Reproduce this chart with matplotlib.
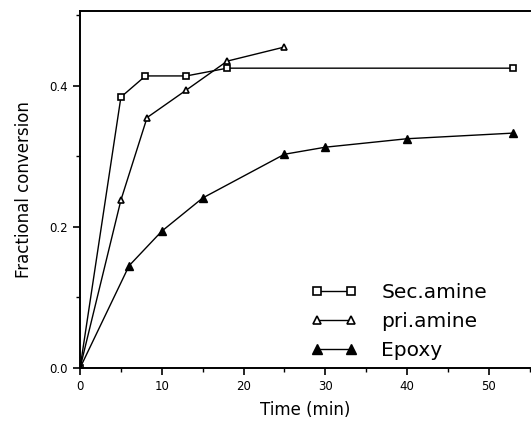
import matplotlib
matplotlib.use("Agg")
import matplotlib.pyplot as plt
from matplotlib.ticker import MultipleLocator

# data
t_sec = [0, 5, 8, 13, 18, 53]
sec_amine = [0.0, 0.384, 0.414, 0.414, 0.425, 0.425]

t_pri = [0, 5, 8.2, 13, 18, 25]
pri_amine = [0.0, 0.238, 0.355, 0.394, 0.435, 0.455]

t_epo = [0, 6, 10, 15, 25, 30, 40, 53]
epoxy = [0.0, 0.145, 0.194, 0.241, 0.303, 0.313, 0.325, 0.333]

fig = plt.figure(figsize=(5.31, 4.24), dpi=100)
ax = fig.add_axes([0.1507, 0.132, 0.847, 0.842])

ax.plot(t_sec, sec_amine, color="black", lw=1.0, marker="s", ms=5,
        mfc="white", mec="black", mew=1.2, label="Sec.amine")
ax.plot(t_pri, pri_amine, color="black", lw=1.0, marker="^", ms=5,
        mfc="white", mec="black", mew=1.2, label="pri.amine")
ax.plot(t_epo, epoxy, color="black", lw=1.0, marker="^", ms=5.5,
        mfc="black", mec="black", label="Epoxy")

ax.set_xlim(0, 55)
ax.set_ylim(0, 0.506)
ax.xaxis.set_major_locator(MultipleLocator(10))
ax.xaxis.set_minor_locator(MultipleLocator(5))
ax.yaxis.set_major_locator(MultipleLocator(0.2))
ax.yaxis.set_minor_locator(MultipleLocator(0.1))
ax.yaxis.set_major_formatter(matplotlib.ticker.FormatStrFormatter("%.1f"))

ax.tick_params(which="major", direction="out", length=5, width=1.2, labelsize=8.5)
ax.tick_params(which="minor", direction="out", length=3, width=1.0)
ax.spines["right"].set_visible(False)
for s in ["left", "bottom", "top"]:
    ax.spines[s].set_linewidth(1.4)

ax.set_xlabel("Time (min)", fontsize=12, labelpad=6)
ax.set_ylabel("Fractional conversion", fontsize=12, labelpad=12)

ax.legend(loc="lower right", bbox_to_anchor=(0.945, -0.028), frameon=False,
          fontsize=14.5, handlelength=2.3, numpoints=2, markerscale=1.2,
          labelspacing=0.5, handletextpad=1.2)

fig.savefig("out.png", dpi=100)
